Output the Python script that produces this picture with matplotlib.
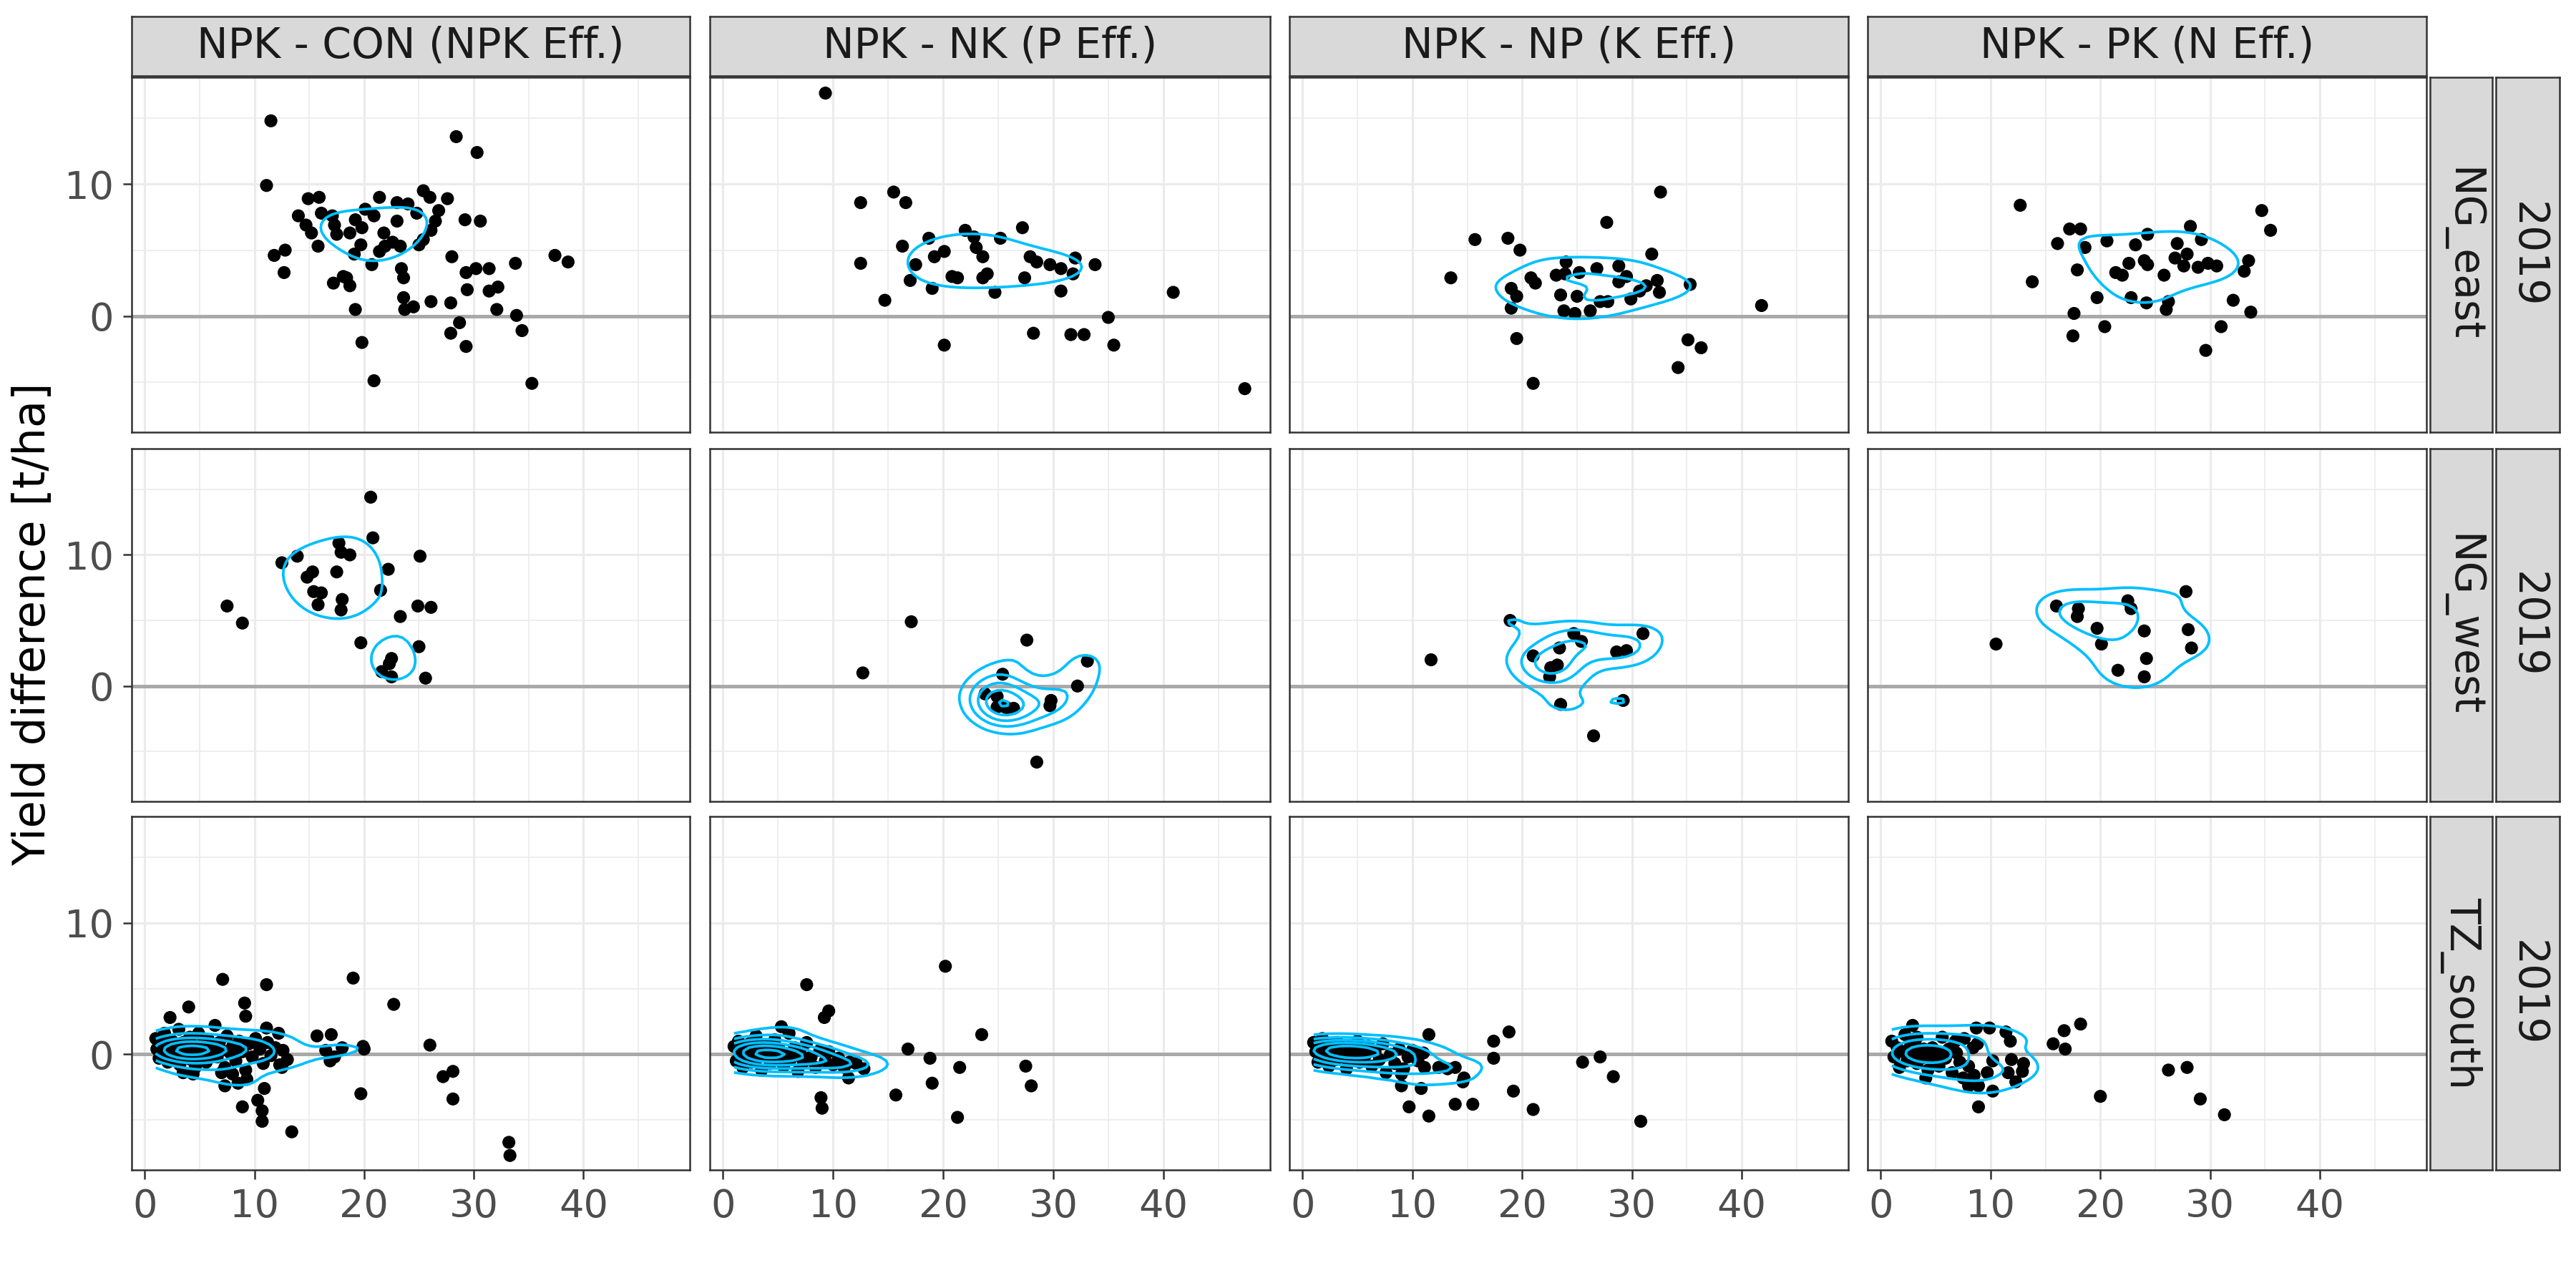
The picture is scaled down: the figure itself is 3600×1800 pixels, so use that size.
import numpy as np
import matplotlib
matplotlib.use("Agg")
import matplotlib.pyplot as plt

# ---- data ----
col_labels = ["NPK - CON (NPK Eff.)", "NPK - NK (P Eff.)", "NPK - NP (K Eff.)", "NPK - PK (N Eff.)"]
row_labels = ["NG_east", "NG_west", "TZ_south"]
year_label = "2019"

# NG_east
con_east_x = [11.5, 28.4, 30.3, 11.1, 14.9, 15.9, 25.4, 26.0, 27.6, 21.4, 23.0, 24.0, 14.0, 16.1, 17.1, 20.1,
              20.9, 24.8, 26.8, 26.5, 29.2, 30.6, 14.7, 17.3, 19.2, 19.8, 23.0, 15.2, 17.5, 18.7, 21.8, 26.1,
              15.8, 19.7, 22.6, 21.9, 23.3, 25.4, 25.0, 21.4, 19.1, 12.8, 11.8, 28.0, 37.4, 38.6, 20.7, 33.8,
              12.7, 23.4, 23.6, 29.3, 30.2, 31.4, 18.1, 18.4, 17.2, 18.7, 29.4, 31.4, 32.2, 23.6, 19.2, 23.7,
              24.5, 26.1, 27.9, 32.1, 33.9, 28.7, 27.9, 34.4, 19.8, 29.3, 20.9, 35.3]
con_east_y = [14.8, 13.6, 12.4, 9.9, 8.9, 9.0, 9.5, 9.0, 8.9, 9.0, 8.6, 8.5, 7.6, 7.8, 7.6, 8.1,
              7.6, 7.8, 8.0, 7.2, 7.3, 7.2, 6.9, 6.9, 7.3, 6.7, 7.2, 6.3, 6.2, 6.3, 6.3, 6.5,
              5.3, 5.4, 5.6, 5.3, 5.3, 5.8, 5.4, 4.9, 4.7, 5.0, 4.6, 4.5, 4.6, 4.1, 3.9, 4.0,
              3.3, 3.6, 2.9, 3.3, 3.6, 3.6, 3.0, 2.9, 2.5, 2.3, 2.0, 1.9, 2.2, 1.4, 0.5, 0.5,
              0.7, 1.1, 1.0, 0.5, 0.05, -0.5, -1.3, -1.1, -2.0, -2.3, -4.9, -5.1]
nk_east_x = [9.3, 15.5, 12.5, 16.6, 27.2, 22.0, 22.8, 25.2, 18.7, 16.3, 23.0, 20.1, 19.2, 23.6, 27.9, 28.5,
             29.7, 30.7, 32.0, 33.8, 31.8, 12.5, 17.5, 20.8, 21.3, 24.0, 23.6, 27.4, 17.0, 19.0, 24.7, 30.7,
             40.9, 14.7, 35.0, 28.2, 31.6, 32.8, 20.1, 35.5, 47.4]
nk_east_y = [16.9, 9.4, 8.6, 8.6, 6.7, 6.5, 6.0, 5.9, 5.9, 5.3, 5.2, 4.9, 4.5, 4.5, 4.5, 4.1,
             3.9, 3.6, 4.4, 3.9, 3.2, 4.0, 3.9, 3.0, 2.9, 3.2, 2.9, 2.9, 2.7, 2.1, 1.8, 1.9,
             1.8, 1.2, -0.1, -1.3, -1.4, -1.4, -2.2, -2.2, -5.5]
np_east_x = [32.6, 27.7, 15.7, 18.7, 19.8, 31.8, 24.0, 28.8, 26.8, 29.5, 25.2, 23.1, 23.9, 20.8, 21.2, 13.5,
             28.8, 31.3, 32.3, 30.7, 32.5, 35.3, 19.0, 19.5, 23.5, 25.0, 27.1, 27.8, 29.9, 19.0, 23.8, 24.8,
             26.2, 41.8, 19.5, 35.1, 36.3, 34.2, 21.0]
np_east_y = [9.4, 7.1, 5.8, 5.9, 5.0, 4.7, 4.1, 3.8, 3.6, 3.0, 3.3, 3.1, 3.2, 2.9, 2.5, 2.9,
             2.6, 2.3, 2.7, 1.9, 1.8, 2.4, 2.1, 1.5, 1.6, 1.5, 1.1, 1.1, 1.3, 0.6, 0.4, 0.2,
             0.4, 0.8, -1.7, -1.8, -2.4, -3.9, -5.1]
pk_east_x = [12.7, 34.7, 35.5, 17.2, 18.2, 28.2, 24.3, 16.1, 18.6, 20.6, 23.2, 27.0, 29.2, 27.9, 26.8, 24.0,
             24.3, 22.6, 27.6, 28.9, 29.8, 30.6, 33.5, 33.1, 17.9, 21.4, 22.0, 25.8, 13.8, 19.7, 22.8, 24.2,
             26.2, 26.0, 32.1, 33.7, 17.6, 20.4, 17.5, 31.0, 29.6]
pk_east_y = [8.4, 8.0, 6.5, 6.6, 6.6, 6.8, 6.2, 5.5, 5.2, 5.7, 5.4, 5.5, 5.8, 4.7, 4.4, 4.2,
             3.9, 4.0, 3.8, 3.7, 4.0, 3.8, 4.2, 3.4, 3.5, 3.3, 3.1, 3.1, 2.6, 1.4, 1.4, 1.0,
             1.1, 0.5, 1.2, 0.3, 0.2, -0.8, -1.5, -0.8, -2.6]

# NG_west
con_west_x = [20.6, 20.8, 17.7, 17.9, 18.7, 25.1, 13.9, 12.5, 22.2, 15.3, 14.8, 17.5, 21.5, 15.4, 16.1,
              18.0, 17.9, 15.8, 7.5, 8.9, 24.9, 26.1, 23.3, 19.7, 25.0, 22.5, 22.3, 21.6, 22.5, 25.6]
con_west_y = [14.4, 11.3, 10.9, 10.2, 10.0, 9.9, 9.9, 9.4, 8.9, 8.7, 8.3, 8.7, 7.3, 7.2, 7.1,
              6.6, 5.8, 6.2, 6.1, 4.8, 6.1, 6.0, 5.3, 3.3, 3.0, 2.1, 1.7, 1.1, 0.7, 0.6]
nk_west_x = [17.1, 27.6, 12.7, 33.1, 25.4, 32.2, 23.8, 24.9, 24.9, 25.9, 26.4, 29.8, 29.7, 28.5, 25.6]
nk_west_y = [4.9, 3.5, 1.0, 1.9, 0.9, 0.0, -0.6, -0.8, -1.6, -1.7, -1.7, -1.1, -1.5, -5.8, -1.6]
np_west_x = [18.9, 11.7, 24.7, 25.4, 23.4, 21.0, 31.0, 28.6, 29.5, 23.2, 22.6, 22.5, 23.5, 29.2, 26.5]
np_west_y = [5.0, 2.0, 4.0, 3.4, 2.9, 2.3, 4.0, 2.6, 2.7, 1.6, 1.4, 0.7, -1.4, -1.1, -3.8]
pk_west_x = [27.8, 16.0, 18.0, 17.9, 22.5, 22.8, 19.7, 24.0, 28.0, 10.5, 20.1, 28.3, 24.2, 21.6, 24.0]
pk_west_y = [7.2, 6.1, 5.9, 5.3, 6.5, 5.9, 4.4, 4.2, 4.3, 3.2, 3.2, 2.9, 2.1, 1.2, 0.7]

# TZ_south
con_south_x = [7.1, 11.1, 19.0, 4.0, 9.1, 9.2, 22.7, 2.3, 11.1, 15.7, 17.0, 26.0, 18.0, 16.5, 19.9, 20.0,
               17.3, 16.9, 12.3, 12.5, 28.1, 27.2, 19.7, 28.1, 10.9, 7.3, 8.5, 9.3, 8.0, 7.0, 10.3, 8.9,
               10.7, 10.7, 13.4, 33.2, 33.3, 3.5, 4.4,
               1.0, 1.1, 1.3, 1.5, 1.6, 1.8, 2.0, 2.1, 2.3, 2.5, 2.6, 2.8, 3.0, 3.1, 3.2, 3.4, 3.5, 3.7,
               3.8, 4.0, 4.1, 4.2, 4.3, 4.4, 4.5, 4.6, 4.7, 4.9, 5.0, 5.1, 5.3, 5.4, 5.6, 5.8, 6.0, 6.2,
               6.4, 6.6, 6.8, 7.0, 7.3, 7.5, 7.8, 8.0, 8.3, 8.6, 8.9, 9.2, 9.5, 9.8, 10.1, 10.5, 10.8,
               11.2, 11.5, 11.9, 12.2, 12.6, 13.0]
con_south_y = [5.7, 5.3, 5.8, 3.6, 3.9, 2.9, 3.8, 2.8, 2.0, 1.4, 1.5, 0.7, 0.5, 0.3, 0.6, 0.4,
               -0.2, -0.5, -0.8, -1.0, -1.3, -1.7, -3.0, -3.4, -2.6, -2.4, -2.2, -1.9, -1.5, -1.4, -3.5, -4.0,
               -4.3, -5.1, -5.9, -6.7, -7.7, -1.4, -1.5,
               1.2, 0.4, -0.3, 0.8, 0.1, 1.6, 0.5, -0.6, 0.2, 1.0, -0.2, 0.6, 0.1, 1.9, -0.8, 0.4, 0.9, 0.0,
               0.5, 0.2, 1.3, -0.4, 0.3, 0.7, 0.1, -1.0, 0.4, 1.6, 0.2, -0.3, 0.8, 0.3, -0.6, 1.1, 0.0, 0.5,
               2.2, -0.2, 0.9, 0.3, -1.0, 1.4, 0.1, 0.6, -0.5, 1.0, 0.2, -1.2, 0.8, -0.2, 1.2, 0.4, -0.7,
               0.9, -0.1, 0.5, 1.6, 0.3, -0.4]
nk_south_x = [20.2, 7.6, 9.6, 9.2, 23.5, 16.8, 18.8, 21.5, 27.5, 28.0, 19.0, 11.4, 12.8, 12.1, 15.7, 8.9,
              9.0, 21.3,
              1.0, 1.2, 1.4, 1.6, 1.8, 2.0, 2.2, 2.4, 2.6, 2.8, 3.0, 3.1, 3.3, 3.5, 3.6, 3.8, 4.0, 4.1,
              4.3, 4.5, 4.7, 4.9, 5.1, 5.3, 5.5, 5.7, 6.0, 6.2, 6.5, 6.8, 7.0, 7.3, 7.6, 8.0, 8.4, 8.8,
              9.3, 9.6, 10.0, 10.5, 11.0, 11.5]
nk_south_y = [6.7, 5.3, 3.3, 2.8, 1.5, 0.4, -0.3, -1.0, -0.9, -2.4, -2.2, -1.8, -1.1, -0.7, -3.1, -3.3,
              -4.1, -4.8,
              0.6, -0.5, 1.0, 0.1, -1.0, 0.4, -0.2, 0.8, -0.6, 0.2, 1.4, -0.3, 0.5, -1.2, 0.0, 0.7, -0.2, 0.3,
              -0.7, 0.1, 1.1, -0.4, 0.4, 2.1, -0.9, 0.0, 1.6, -0.3, 0.5, -1.3, 0.1, -0.6, 0.9, -0.2, -1.0, 0.3,
              -0.5, 0.2, -0.8, -0.3, -1.0, -0.6]
np_south_x = [11.5, 17.4, 18.8, 17.4, 25.5, 27.1, 28.3, 11.1, 12.4, 13.2, 13.9, 14.7, 14.6, 19.2, 9.0, 9.0,
              10.8, 9.7, 11.5, 13.9, 15.5, 21.0, 30.8,
              1.0, 1.2, 1.4, 1.6, 1.8, 2.0, 2.2, 2.4, 2.6, 2.8, 3.0, 3.2, 3.4, 3.6, 3.8, 4.0, 4.2, 4.4,
              4.6, 4.8, 5.0, 5.2, 5.4, 5.7, 6.0, 6.3, 6.6, 7.0, 7.3, 7.6, 8.0, 8.4, 8.8, 9.2, 9.6, 10.0,
              10.5, 11.0]
np_south_y = [1.5, 1.0, 1.7, -0.3, -0.6, -0.2, -1.7, -1.0, -1.0, -1.1, -1.0, -1.8, -2.1, -2.8, -1.5, -2.4,
              -2.6, -4.0, -4.7, -3.8, -3.8, -4.2, -5.1,
              0.9, 0.2, -0.6, 0.5, 1.2, -0.1, 0.4, -0.9, 0.7, 0.1, -0.4, 0.9, 0.3, -0.2, 0.5, -1.1, 0.2, 0.6,
              -0.3, 0.1, 1.0, -0.6, 0.3, -0.1, 0.6, -0.9, 0.2, -0.4, 0.8, -1.4, 0.0, -0.7, 0.4, -1.1, -0.2, 0.3,
              -0.5, 0.1]
pk_south_x = [2.9, 18.2, 16.7, 15.7, 16.8, 8.7, 9.9, 11.4, 11.8, 8.8, 6.8, 11.9, 13.0, 12.9, 11.6, 10.2,
              9.7, 8.5, 7.5, 8.0, 8.9, 10.2, 12.3, 8.9, 26.2, 27.9, 20.0, 29.1, 31.3, 4.1, 3.3,
              1.0, 1.2, 1.5, 1.7, 2.0, 2.2, 2.4, 2.7, 2.9, 3.1, 3.3, 3.5, 3.7, 3.9, 4.1, 4.3, 4.5, 4.7,
              4.9, 5.1, 5.3, 5.6, 5.9, 6.2, 6.5, 6.9, 7.2, 7.6, 8.0, 8.4]
pk_south_y = [2.2, 2.3, 1.8, 0.8, 0.4, 2.0, 2.0, 1.7, 1.0, 0.8, 1.0, -0.4, -0.7, -1.3, -1.4, -0.5,
              -1.4, -1.6, -1.8, -2.4, -2.4, -2.8, -2.1, -4.0, -1.2, -1.0, -3.2, -3.4, -4.6, -1.8, 1.3,
              1.0, -0.2, 0.5, -1.0, 0.2, 1.5, -0.5, 0.6, -0.1, 0.9, -0.7, 0.1, -0.3, 0.4, -0.2, -1.2, 0.0, 0.5,
              -0.5, 0.2, -0.9, 1.3, -0.3, 0.4, -1.4, 0.1, -0.6, 1.2, -0.9, 0.5]

panels = [
    [(con_east_x, con_east_y), (nk_east_x, nk_east_y), (np_east_x, np_east_y), (pk_east_x, pk_east_y)],
    [(con_west_x, con_west_y), (nk_west_x, nk_west_y), (np_west_x, np_west_y), (pk_west_x, pk_west_y)],
    [(con_south_x, con_south_y), (nk_south_x, nk_south_y), (np_south_x, np_south_y), (pk_south_x, pk_south_y)],
]

# ---- layout (pixels in the 3600x1800 figure) ----
W, H = 3600, 1800
col_px = [(184, 964), (992, 1775), (1802, 2583), (2610, 3391)]
row_px = [(108, 604), (627, 1120), (1141, 1635)]
strip_top = (23, 106)
strip_right = [(3396, 3483), (3488, 3577)]
XLIM = (-1.2, 49.7)
YLIM = (-8.8, 18.1)


def box(l, t, r, b):
    return [l / W, 1 - b / H, (r - l) / W, (b - t) / H]


def bw(v):
    # MASS::bandwidth.nrd / 4, as used by kde2d
    q75, q25 = np.percentile(v, [75, 25])
    return 1.06 * min(np.std(v, ddof=1), (q75 - q25) / 1.34) * len(v) ** -0.2


def kde2d(x, y, xr, yr, n=100):
    x, y = np.asarray(x), np.asarray(y)
    gx = np.linspace(xr[0], xr[1], n)
    gy = np.linspace(yr[0], yr[1], n)
    hx, hy = bw(x), bw(y)
    kx = np.exp(-0.5 * ((gx[:, None] - x[None, :]) / hx) ** 2) / (np.sqrt(2 * np.pi) * hx)
    ky = np.exp(-0.5 * ((gy[:, None] - y[None, :]) / hy) ** 2) / (np.sqrt(2 * np.pi) * hy)
    return gx, gy, ky @ kx.T / len(x)


def pretty_step(lo, hi, n=10):
    cell = (hi - lo) / n
    U = 10 ** np.floor(np.log10(cell))
    unit = U
    if 2 * U - cell < 1.5 * (cell - unit):
        unit = 2 * U
        if 5 * U - cell < 2.75 * (cell - unit):
            unit = 5 * U
            if 10 * U - cell < 1.5 * (cell - unit):
                unit = 10 * U
    return unit


all_x = np.concatenate([np.asarray(p[0]) for row in panels for p in row])
all_y = np.concatenate([np.asarray(p[1]) for row in panels for p in row])
xr = (all_x.min(), all_x.max())
yr = (all_y.min(), all_y.max())

dens = [[kde2d(px, py, xr, yr) for (px, py) in row] for row in panels]
zmin = min(d[2].min() for row in dens for d in row)
zmax = max(d[2].max() for row in dens for d in row)
step = pretty_step(zmin, zmax)
levels = np.arange(step, zmax, step)

fig = plt.figure(figsize=(12, 6), dpi=300)

for i, (top, bot) in enumerate(row_px):
    for j, (left, right) in enumerate(col_px):
        ax = fig.add_axes(box(left, top, right, bot))
        px, py = panels[i][j]
        ax.set_xlim(XLIM)
        ax.set_ylim(YLIM)
        ax.set_xticks([0, 10, 20, 30, 40])
        ax.set_xticks([5, 15, 25, 35, 45], minor=True)
        ax.set_yticks([0, 10])
        ax.set_yticks([-5, 5, 15], minor=True)
        ax.grid(True, which="major", color="#EBEBEB", lw=0.75, zorder=0)
        ax.grid(True, which="minor", color="#EBEBEB", lw=0.4, zorder=0)
        ax.set_axisbelow(True)
        ax.axhline(0, color="#A9A9A9", lw=1.2, zorder=1)
        ax.scatter(px, py, s=19, color="black", edgecolors="none", zorder=2)
        gx, gy, z = dens[i][j]
        ax.contour(gx, gy, z, levels=levels, colors="#00BFFF", linewidths=0.9, zorder=3)
        for sp in ax.spines.values():
            sp.set_color("#333333")
            sp.set_linewidth(0.6)
        ax.tick_params(which="minor", length=0)
        ax.tick_params(which="major", color="#333333", width=0.6, length=3,
                       labelsize=13, labelcolor="#4D4D4D", pad=3)
        if j != 0:
            ax.tick_params(axis="y", which="major", length=0, labelleft=False)
        if i != len(row_px) - 1:
            ax.tick_params(axis="x", which="major", length=0, labelbottom=False)

        # top strips
        if i == 0:
            sax = fig.add_axes(box(left, strip_top[0], right, strip_top[1]))
            sax.set_facecolor("#D9D9D9")
            sax.set_xticks([])
            sax.set_yticks([])
            for sp in sax.spines.values():
                sp.set_color("#333333")
                sp.set_linewidth(0.6)
            sax.text(0.5, 0.5, col_labels[j], ha="center", va="center",
                     fontsize=14, color="#1A1A1A", transform=sax.transAxes)

    # right strips
    for k, (sl, sr) in enumerate(strip_right):
        sax = fig.add_axes(box(sl, top, sr, bot))
        sax.set_facecolor("#D9D9D9")
        sax.set_xticks([])
        sax.set_yticks([])
        for sp in sax.spines.values():
            sp.set_color("#333333")
            sp.set_linewidth(0.6)
        label = row_labels[i] if k == 0 else year_label
        sax.text(0.5, 0.5, label, ha="center", va="center", rotation=-90,
                 fontsize=14, color="#1A1A1A", transform=sax.transAxes)

fig.text(46 / W, 1 - 872 / H, "Yield difference [t/ha]", rotation=90,
         ha="center", va="center", fontsize=15, color="black")

fig.savefig("out.png", dpi=300)
